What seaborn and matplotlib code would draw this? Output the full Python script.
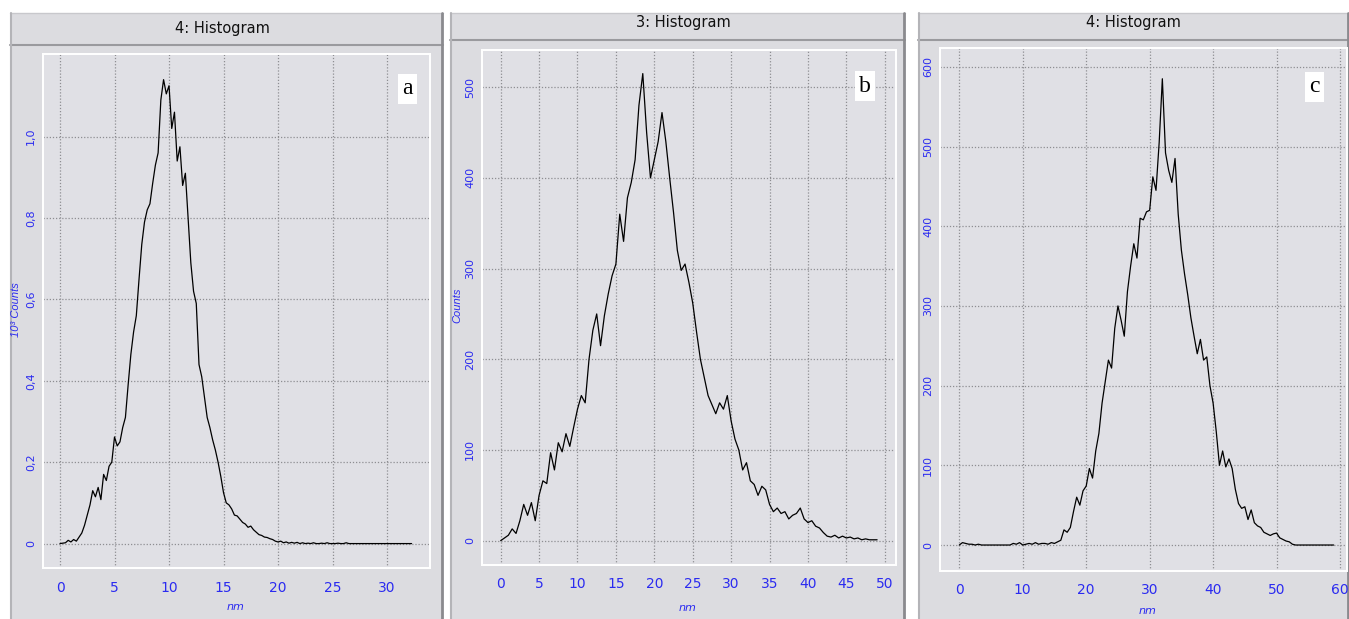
import numpy as np
import pandas as pd
import matplotlib
matplotlib.use("Agg")
import matplotlib.pyplot as plt
import seaborn as sns
from matplotlib.patches import Rectangle
from matplotlib.ticker import MultipleLocator, FixedLocator, FixedFormatter
from matplotlib.lines import Line2D

# ---------------- data ----------------
# panel a : bin width 0.25 nm, values in 10^3 counts
a_step = 0.25
a_counts = [
    0.000, 0.001, 0.002, 0.008, 0.004, 0.010, 0.006, 0.016, 0.026, 0.045,
    0.070, 0.095, 0.130, 0.115, 0.138, 0.108, 0.170, 0.155, 0.190, 0.200,
    0.262, 0.240, 0.250, 0.285, 0.310, 0.390, 0.465, 0.520, 0.560, 0.650,
    0.735, 0.790, 0.820, 0.835, 0.885, 0.930, 0.960, 1.090, 1.140, 1.105,
    1.125, 1.020, 1.060, 0.940, 0.975, 0.880, 0.910, 0.800, 0.690, 0.620,
    0.590, 0.440, 0.410, 0.360, 0.310, 0.285, 0.255, 0.230, 0.200, 0.165,
    0.125, 0.100, 0.095, 0.085, 0.070, 0.068, 0.060, 0.052, 0.048, 0.040,
    0.043, 0.034, 0.028, 0.022, 0.020, 0.016, 0.015, 0.012, 0.010, 0.006,
    0.004, 0.006, 0.002, 0.004, 0.001, 0.003, 0.001, 0.003, 0.000, 0.002,
    0.000, 0.001, 0.000, 0.002, 0.000, 0.000, 0.001, 0.000, 0.002, 0.000,
    0.000, 0.000, 0.001, 0.000, 0.000, 0.002, 0.000, 0.000, 0.000, 0.000,
    0.000, 0.000, 0.000, 0.000, 0.000, 0.000, 0.000, 0.000, 0.000, 0.000,
    0.000, 0.000, 0.000, 0.000, 0.000, 0.000, 0.000, 0.000, 0.000, 0.000,
]
# panel b : bin width 0.5 nm, counts
b_step = 0.5
b_counts = [
    0, 3, 6, 13, 8, 22, 40, 28, 42, 22,
    50, 66, 63, 97, 78, 108, 98, 118, 104, 125,
    145, 160, 152, 200, 232, 250, 215, 248, 272, 292,
    305, 360, 330, 378, 395, 420, 480, 515, 450, 400,
    420, 440, 472, 440, 400, 362, 320, 298, 305, 285,
    262, 230, 200, 180, 160, 150, 140, 152, 145, 160,
    132, 112, 100, 78, 86, 66, 62, 50, 60, 56,
    40, 32, 36, 30, 32, 24, 28, 30, 36, 24,
    20, 22, 16, 14, 9, 5, 4, 6, 3, 5,
    3, 4, 2, 3, 1, 2, 1, 1, 1,
]
# panel c : bin width 0.5 nm, counts
c_step = 0.5
c_counts = [
    0, 3, 2, 1, 1, 0, 1, 0, 0, 0,
    0, 0, 0, 0, 0, 0, 0, 2, 1, 3,
    0, 1, 2, 1, 3, 1, 2, 2, 1, 3,
    2, 4, 6, 19, 16, 22, 42, 60, 50, 68,
    74, 96, 84, 118, 140, 178, 205, 232, 222, 272,
    300, 282, 262, 318, 350, 378, 360, 410, 408, 418,
    420, 462, 445, 505, 585, 492, 470, 455, 485, 415,
    370, 340, 314, 285, 262, 240, 258, 232, 236, 200,
    178, 142, 100, 118, 98, 108, 96, 70, 52, 46,
    48, 32, 44, 28, 24, 22, 16, 14, 12, 14,
    15, 9, 7, 5, 4, 1, 0, 0, 0, 0,
    0, 0, 0, 0, 0, 0, 0, 0, 0,
]

titles = ["4: Histogram", "3: Histogram", "4: Histogram"]
letters = ["a", "b", "c"]
y_labels = ["10\u00b3 Counts", "Counts", ""]
x_label = "nm"
a_yticks = [0, 0.2, 0.4, 0.6, 0.8, 1.0]
a_yticklabels = ["0", "0,2", "0,4", "0,6", "0,8", "1,0"]
b_yticks = [0, 100, 200, 300, 400, 500]
c_yticks = [0, 100, 200, 300, 400, 500, 600]
a_xticks = [0, 5, 10, 15, 20, 25, 30]
b_xticks = [0, 5, 10, 15, 20, 25, 30, 35, 40, 45, 50]
c_xticks = [0, 10, 20, 30, 40, 50, 60]

# ---------------- layout ----------------
W, H = 1349, 619
sns.set_style("white")
narrow = ["Liberation Sans Narrow", "DejaVu Sans"]
plt.rcParams["font.family"] = ["Liberation Sans", "DejaVu Sans"]

fig = plt.figure(figsize=(W / 100, H / 100), dpi=100)
fig.patch.set_facecolor("white")

def fx(px):
    return px / W

def fy(py):
    return 1 - py / H

def frect(x0, y0, x1, y1, **kw):
    fig.patches.append(Rectangle((fx(x0), fy(y1)), fx(x1) - fx(x0), fy(y0) - fy(y1),
                                 transform=fig.transFigure, figure=fig, **kw))

def fline(x0, y0, x1, y1, **kw):
    fig.lines.append(Line2D([fx(x0), fx(x1)], [fy(y0), fy(y1)],
                            transform=fig.transFigure, figure=fig, **kw))

PANEL = "#dcdce0"
PLOT = "#e0e0e5"
BLUE = "#2b2bf0"

panels = [
    dict(frame=(10, 13, 443, 619), tline=45, tpos=(222, 29),
         plot=(43, 54, 430, 568), xlim=(-1.56, 33.94), ylim=(-0.06, 1.203),
         step=a_step, vals=a_counts, xt=a_xticks, yt=a_yticks, ytl=a_yticklabels,
         xmin=1, ymin=0.1, letter=(407, 89), ylab=(16, 310), xlab=(236, 607)),
    dict(frame=(450, 13, 905, 619), tline=40, tpos=(683, 23),
         plot=(482, 50, 896, 565), xlim=(-2.43, 51.46), ylim=(-26.8, 541),
         step=b_step, vals=b_counts, xt=b_xticks, yt=b_yticks, ytl=[str(v) for v in b_yticks],
         xmin=1, ymin=10, letter=(865, 86), ylab=(457, 305), xlab=(688, 608)),
    dict(frame=(918, 13, 1349, 619), tline=40, tpos=(1133, 23),
         plot=(940, 48, 1347, 571), xlim=(-3.04, 61.1), ylim=(-32.6, 623.6),
         step=c_step, vals=c_counts, xt=c_xticks, yt=c_yticks, ytl=[str(v) for v in c_yticks],
         xmin=2, ymin=20, letter=(1314, 87), ylab=None, xlab=(1148, 611)),
]

for i, p in enumerate(panels):
    x0, y0, x1, y1 = p["frame"]
    frect(x0, y0, x1, y1, facecolor=PANEL, edgecolor="none", zorder=-3)
    fline(x0, p["tline"], x1, p["tline"], color="#9a9a9e", lw=1.5, zorder=-2)
    fline(x0, y0, x1, y0, color="#c8c8cc", lw=1, zorder=-2)
    fline(x1 - 1, y0, x1 - 1, y1, color="#8a8a8e", lw=2, zorder=-2)
    fline(x0 + 1, y0, x0 + 1, y1, color="#b4b4b8", lw=1.5, zorder=-2)
    fig.text(fx(p["tpos"][0]), fy(p["tpos"][1]), titles[i], ha="center", va="center",
             fontsize=10.5, family=narrow, color="#111111")

    px0, py0, px1, py1 = p["plot"]
    ax = fig.add_axes([fx(px0), fy(py1), fx(px1) - fx(px0), fy(py0) - fy(py1)])
    ax.set_zorder(1)
    ax.set_facecolor(PLOT)
    df = pd.DataFrame({"nm": p["step"] * np.arange(len(p["vals"])), "count": p["vals"]})
    sns.lineplot(data=df, x="nm", y="count", ax=ax, color="black", lw=0.9,
                 estimator=None)
    ax.set_xlim(*p["xlim"])
    ax.set_ylim(*p["ylim"])
    ax.xaxis.set_major_locator(FixedLocator(p["xt"]))
    ax.xaxis.set_major_formatter(FixedFormatter([str(v) for v in p["xt"]]))
    ax.yaxis.set_major_locator(FixedLocator(p["yt"]))
    ax.yaxis.set_major_formatter(FixedFormatter(p["ytl"]))
    ax.xaxis.set_minor_locator(MultipleLocator(p["xmin"]))
    ax.yaxis.set_minor_locator(MultipleLocator(p["ymin"]))
    ax.grid(True, which="major", color="#8e8e92", lw=0.9, linestyle=(0, (1, 1.5)))
    for s in ax.spines.values():
        s.set_color("white")
        s.set_linewidth(1.4)
    ax.tick_params(axis="x", which="major", colors="white", length=5, width=1,
                   direction="out", labelcolor=BLUE, pad=4)
    ax.tick_params(axis="y", which="major", colors="white", length=4, width=1,
                   direction="out", labelcolor=BLUE, pad=1)
    ax.tick_params(axis="both", which="minor", colors="white", length=3, width=1,
                   direction="out")
    for lab in ax.get_xticklabels():
        lab.set_family(narrow)
        lab.set_fontsize(10)
    for lab in ax.get_yticklabels():
        lab.set_family(narrow)
        lab.set_fontsize(8)
        lab.set_rotation(90)
        lab.set_va("center")
    ax.set_xlabel("")
    ax.set_ylabel("")
    fig.text(fx(p["xlab"][0]), fy(p["xlab"][1]), x_label, ha="center", va="center",
             fontsize=8, style="italic", color=BLUE, family=narrow)
    if p["ylab"] is not None:
        fig.text(fx(p["ylab"][0]), fy(p["ylab"][1]), y_labels[i], ha="center", va="center",
                 fontsize=8, style="italic", color=BLUE, rotation=90)
    t = fig.text(fx(p["letter"][0]), fy(p["letter"][1]), letters[i], ha="center", va="center",
                 fontsize=17, family=["Liberation Serif", "DejaVu Serif"], color="black",
                 bbox=dict(facecolor="white", edgecolor="none", pad=3))
    t.set_zorder(5)

fig.savefig("out.png", dpi=100, facecolor="white")
